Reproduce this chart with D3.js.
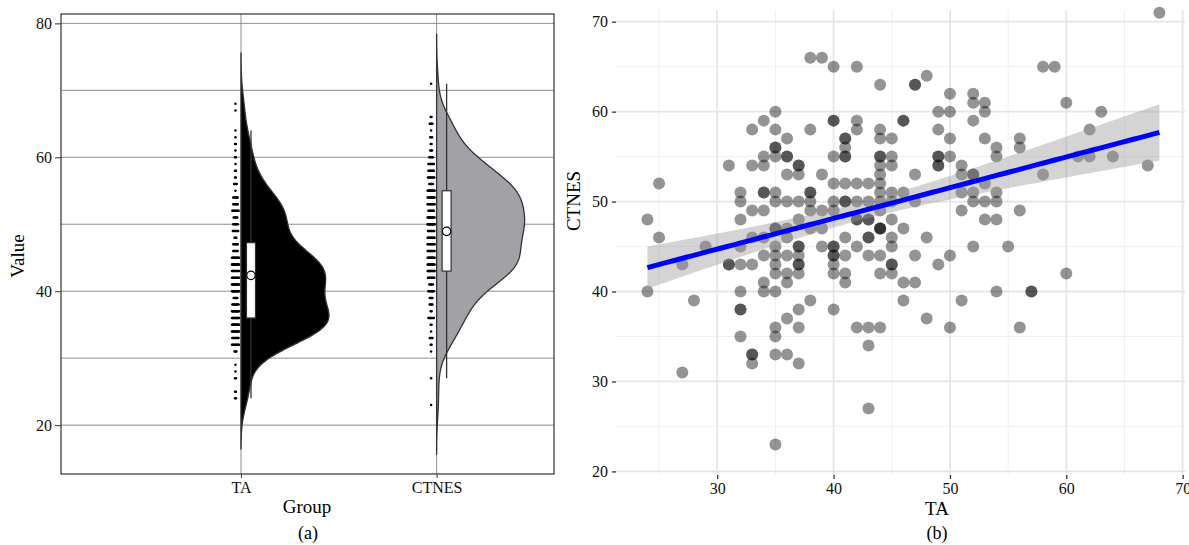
<!DOCTYPE html>
<html>
<head>
<meta charset="utf-8">
<script src="https://cdn.jsdelivr.net/npm/d3@7"></script>
<style>
  body { margin: 0; background: #fff; }
  text { font-family: "Liberation Serif", "Times New Roman", serif; }
</style>
</head>
<body>
<svg id="chart" width="1189" height="545"></svg>
<script>
const groups = ["TA", "CTNES"];

// paired scores, one line per TA value (TA, then the CTNES scores at that TA)
const taScores = [
  24,24, 25,25, 27,27, 28, 29, 31,31,31,
  32,32,32,32,32,32,32,32,32,
  33,33,33,33,33,33,33,33,
  34,34,34,34,34,34,34,34,34,34,
  35,35,35,35,35,35,35,35,35,35,35,35,35,35,35,35,35,35,
  36,36,36,36,36,36,36,36,36,36,36,36,
  37,37,37,37,37,37,37,37,37,37,37,37,37,37,
  38,38,38,38,38,38,38,38,
  39,39,39,39,39,
  40,40,40,40,40,40,40,40,40,40,40,40,40,40,
  41,41,41,41,41,41,41,41,41,41,41,41,
  42,42,42,42,42,42,42,42,42,
  43,43,43,43,43,43,43,43,43,43,
  44,44,44,44,44,44,44,44,44,44,44,44,44,44,44,44,44,
  45,45,45,45,45,45,45,45,45,45,45,
  46,46,46,46,46,46,
  47,47,47,47,47,47,
  48,48,48,
  49,49,49,49,49,49,49,
  50,50,50,50,50,50,
  51,51,51,51,51,
  52,52,52,52,52,52,52,52,
  53,53,53,53,53,53,
  54,54,54,54,54,54,
  55, 56,56,56,56, 57,57, 58,58, 59, 60,60, 61, 62,62, 63, 64, 67, 68
];
const ctnesScores = [
  48,40, 52,46, 43,31, 39, 45, 54,43,43,
  51,50,48,45,43,40,38,38,35,
  58,54,49,46,43,33,33,32,
  59,55,54,51,51,49,46,44,41,40,
  60,58,56,56,55,51,50,47,47,45,44,43,42,40,36,35,33,23,
  57,55,55,53,50,47,46,44,42,41,37,33,
  54,54,53,50,48,45,45,44,43,43,42,38,36,32,
  66,58,51,51,50,49,47,39,
  66,53,49,47,45,
  65,59,59,55,52,50,49,45,45,44,44,43,42,38,
  57,57,56,55,55,52,50,50,46,44,42,41,
  65,59,58,52,50,48,48,45,36,
  52,50,48,48,46,46,44,36,34,27,
  63,58,57,55,55,54,53,52,51,50,49,47,47,47,44,42,36,
  57,55,54,51,50,48,46,45,43,43,42,
  59,59,51,47,41,39,
  63,63,53,50,44,41,
  64,46,37,
  60,58,55,55,54,54,43,
  62,60,57,55,44,36,
  54,53,51,49,39,
  62,61,59,53,53,51,50,45,
  61,60,57,52,50,48,
  56,55,51,50,48,40,
  45, 57,56,49,36, 40,40, 65,53, 65, 61,42, 55, 58,55, 60, 55, 54, 71
];

const valueTicks = [20, 40, 60, 80];
const valueGrid = [20, 30, 40, 50, 60, 70, 80];
const taTicks = [30, 40, 50, 60, 70];
const taMinor = [25, 35, 45, 55, 65];
const ctnesTicks = [20, 30, 40, 50, 60, 70];
const ctnesMinor = [25, 35, 45, 55, 65];

const series = {TA: taScores, CTNES: ctnesScores};
const fills = {TA: "#000000", CTNES: "#a2a2a6"};

const svg = d3.select("#chart");

// ---------- panel (a): raincloud ----------
const aBox = {left: 61, top: 14, right: 554, bottom: 474};
const ya = d3.scaleLinear().domain([12.7, 81.4]).range([aBox.bottom, aBox.top]);
const xa = d3.scaleLinear().domain([0.08, 2.6]).range([aBox.left, aBox.right]);
const gx = g => xa(groups.indexOf(g) + 1);

const aG = svg.append("g");

aG.selectAll("line.hgrid")
  .data(valueGrid)
  .join("line")
  .attr("x1", aBox.left).attr("x2", aBox.right)
  .attr("y1", d => ya(d)).attr("y2", d => ya(d))
  .attr("stroke", "#8f8f8f").attr("stroke-width", 1);

aG.selectAll("line.vgrid")
  .data(groups)
  .join("line")
  .attr("x1", d => gx(d)).attr("x2", d => gx(d))
  .attr("y1", aBox.top).attr("y2", aBox.bottom)
  .attr("stroke", "#8f8f8f").attr("stroke-width", 1);

function kde(values) {
  const n = values.length;
  const s = values.slice().sort(d3.ascending);
  const sd = d3.deviation(s);
  const iqr = d3.quantile(s, 0.75) - d3.quantile(s, 0.25);
  const bw = 0.9 * Math.min(sd, iqr / 1.34) * Math.pow(n, -0.2);
  const lo = s[0] - 3 * bw, hi = s[n - 1] + 3 * bw;
  return d3.range(512).map(i => {
    const v = lo + (hi - lo) * i / 511;
    const dens = d3.sum(s, x => Math.exp(-0.5 * ((v - x) / bw) ** 2)) / (n * bw * Math.sqrt(2 * Math.PI));
    return [v, dens];
  });
}

const violinWidth = 88;
groups.forEach(g => {
  const dens = kde(series[g]);
  const w = d3.scaleLinear().domain([0, d3.max(dens, d => d[1])]).range([0, violinWidth]);
  const cx = gx(g);
  const area = d3.area()
    .y(d => ya(d[0]))
    .x0(cx)
    .x1(d => cx + w(d[1]));
  aG.append("path")
    .datum(dens)
    .attr("d", area)
    .attr("fill", fills[g])
    .attr("stroke", "#333")
    .attr("stroke-width", 1.3);
});

// box plots
const stats = groups.map(g => {
  const s = series[g].slice().sort(d3.ascending);
  const q1 = d3.quantile(s, 0.25), q3 = d3.quantile(s, 0.75);
  const iqr = q3 - q1;
  return {
    group: g, q1, q3,
    lo: d3.min(s.filter(v => v >= q1 - 1.5 * iqr)),
    hi: d3.max(s.filter(v => v <= q3 + 1.5 * iqr)),
    mean: d3.mean(s)
  };
});
const boxShift = 10, boxW = 9;

aG.selectAll("line.whisker")
  .data(stats)
  .join("line")
  .attr("x1", d => gx(d.group) + boxShift).attr("x2", d => gx(d.group) + boxShift)
  .attr("y1", d => ya(d.lo)).attr("y2", d => ya(d.hi))
  .attr("stroke", "#333").attr("stroke-width", 1.3);

aG.selectAll("rect.box")
  .data(stats)
  .join("rect")
  .attr("x", d => gx(d.group) + boxShift - boxW / 2)
  .attr("y", d => ya(d.q3))
  .attr("width", boxW)
  .attr("height", d => ya(d.q1) - ya(d.q3))
  .attr("fill", "#fff")
  .attr("stroke", "#333").attr("stroke-width", 1.2);

aG.selectAll("circle.mean")
  .data(stats)
  .join("circle")
  .attr("cx", d => gx(d.group) + boxShift)
  .attr("cy", d => ya(d.mean))
  .attr("r", 4.2)
  .attr("fill", "#fff")
  .attr("stroke", "#000").attr("stroke-width", 1.2);

// rain dots, spread sideways a little where scores repeat
const rain = [];
groups.forEach(g => {
  d3.rollups(series[g], v => v.length, v => v).forEach(([val, n]) => {
    const spread = Math.min(7, (n - 1) * 0.9);
    for (let i = 0; i < n; i++) {
      const off = n === 1 ? 0 : -spread / 2 + spread * i / (n - 1);
      rain.push({group: g, value: val, off});
    }
  });
});
aG.selectAll("circle.rain")
  .data(rain)
  .join("circle")
  .attr("cx", d => gx(d.group) - 5.5 + d.off)
  .attr("cy", d => ya(d.value))
  .attr("r", 1.25)
  .attr("fill", "#000");

aG.append("rect")
  .attr("x", aBox.left).attr("y", aBox.top)
  .attr("width", aBox.right - aBox.left).attr("height", aBox.bottom - aBox.top)
  .attr("fill", "none").attr("stroke", "#333").attr("stroke-width", 1.2);

const aAxisY = aG.append("g")
  .attr("transform", `translate(${aBox.left},0)`)
  .call(d3.axisLeft(ya).tickValues(valueTicks).tickSize(6).tickPadding(3));
const aAxisX = aG.append("g")
  .attr("transform", `translate(0,${aBox.bottom})`)
  .call(d3.axisBottom(d3.scaleOrdinal().domain(groups).range(groups.map(gx))).tickSize(4).tickPadding(4));
[aAxisY, aAxisX].forEach(ax => {
  ax.select(".domain").remove();
  ax.selectAll("line").attr("stroke", "#333");
  ax.selectAll("text").attr("font-size", 16).attr("fill", "#111")
    .style("font-family", '"Liberation Serif", serif');
});

aG.append("text")
  .attr("transform", `translate(24,${(aBox.top + aBox.bottom) / 2 + 12}) rotate(-90)`)
  .attr("text-anchor", "middle").attr("font-size", 19).text("Value");
aG.append("text")
  .attr("x", 307).attr("y", 513)
  .attr("text-anchor", "middle").attr("font-size", 19).text("Group");
aG.append("text")
  .attr("x", 308).attr("y", 539)
  .attr("text-anchor", "middle").attr("font-size", 18).text("(a)");

// ---------- panel (b): scatter with regression ----------
const bBox = {left: 616, top: 10, right: 1185, bottom: 475};
const xb = d3.scaleLinear().domain([21.3, 70.2]).range([bBox.left, bBox.right]);
const yb = d3.scaleLinear().domain([19.6, 71.3]).range([bBox.bottom, bBox.top]);
const bG = svg.append("g");

bG.selectAll("line.xminor").data(taMinor).join("line")
  .attr("x1", d => xb(d)).attr("x2", d => xb(d))
  .attr("y1", bBox.top).attr("y2", bBox.bottom)
  .attr("stroke", "#f0f0f0").attr("stroke-width", 1);
bG.selectAll("line.yminor").data(ctnesMinor).join("line")
  .attr("x1", bBox.left).attr("x2", bBox.right)
  .attr("y1", d => yb(d)).attr("y2", d => yb(d))
  .attr("stroke", "#f0f0f0").attr("stroke-width", 1);
bG.selectAll("line.xmajor").data(taTicks).join("line")
  .attr("x1", d => xb(d)).attr("x2", d => xb(d))
  .attr("y1", bBox.top).attr("y2", bBox.bottom)
  .attr("stroke", "#e6e6e6").attr("stroke-width", 1.8);
bG.selectAll("line.ymajor").data(ctnesTicks).join("line")
  .attr("x1", bBox.left).attr("x2", bBox.right)
  .attr("y1", d => yb(d)).attr("y2", d => yb(d))
  .attr("stroke", "#e6e6e6").attr("stroke-width", 1.8);

const pts = taScores.map((t, i) => ({ta: t, ct: ctnesScores[i]}));
bG.selectAll("circle.pt").data(pts).join("circle")
  .attr("cx", d => xb(d.ta))
  .attr("cy", d => yb(d.ct))
  .attr("r", 6)
  .attr("fill", "#000")
  .attr("fill-opacity", 0.42);

// least squares fit with 95% confidence band
const n = pts.length;
const mx = d3.mean(pts, d => d.ta), my = d3.mean(pts, d => d.ct);
const sxx = d3.sum(pts, d => (d.ta - mx) ** 2);
const sxy = d3.sum(pts, d => (d.ta - mx) * (d.ct - my));
const slope = sxy / sxx, intercept = my - slope * mx;
const sres = Math.sqrt(d3.sum(pts, d => (d.ct - intercept - slope * d.ta) ** 2) / (n - 2));
const tcrit = 1.97;
const [tmin, tmax] = d3.extent(taScores);
const fit = d3.range(80).map(i => {
  const x = tmin + (tmax - tmin) * i / 79;
  const yhat = intercept + slope * x;
  const se = sres * Math.sqrt(1 / n + (x - mx) ** 2 / sxx);
  return {x, yhat, lo: yhat - tcrit * se, hi: yhat + tcrit * se};
});

bG.append("path").datum(fit)
  .attr("d", d3.area().x(d => xb(d.x)).y0(d => yb(d.lo)).y1(d => yb(d.hi)))
  .attr("fill", "#999").attr("fill-opacity", 0.42);
bG.append("path").datum(fit)
  .attr("d", d3.line().x(d => xb(d.x)).y(d => yb(d.yhat)))
  .attr("fill", "none").attr("stroke", "#0000ff").attr("stroke-width", 5);

const bAxisY = bG.append("g")
  .attr("transform", `translate(${bBox.left},0)`)
  .call(d3.axisLeft(yb).tickValues(ctnesTicks).tickSize(4).tickPadding(4));
const bAxisX = bG.append("g")
  .attr("transform", `translate(0,${bBox.bottom})`)
  .call(d3.axisBottom(xb).tickValues(taTicks).tickSize(4).tickPadding(4));
[bAxisY, bAxisX].forEach(ax => {
  ax.select(".domain").remove();
  ax.selectAll("line").attr("stroke", "#333").attr("stroke-width", 1.3);
  ax.selectAll("text").attr("font-size", 16).attr("fill", "#111")
    .style("font-family", '"Liberation Serif", serif');
});

bG.append("text")
  .attr("transform", `translate(580,201) rotate(-90)`)
  .attr("text-anchor", "middle").attr("font-size", 19).text("CTNES");
bG.append("text")
  .attr("x", 937).attr("y", 515)
  .attr("text-anchor", "middle").attr("font-size", 19).text("TA");
bG.append("text")
  .attr("x", 937).attr("y", 539)
  .attr("text-anchor", "middle").attr("font-size", 18).text("(b)");
</script>
</body>
</html>
